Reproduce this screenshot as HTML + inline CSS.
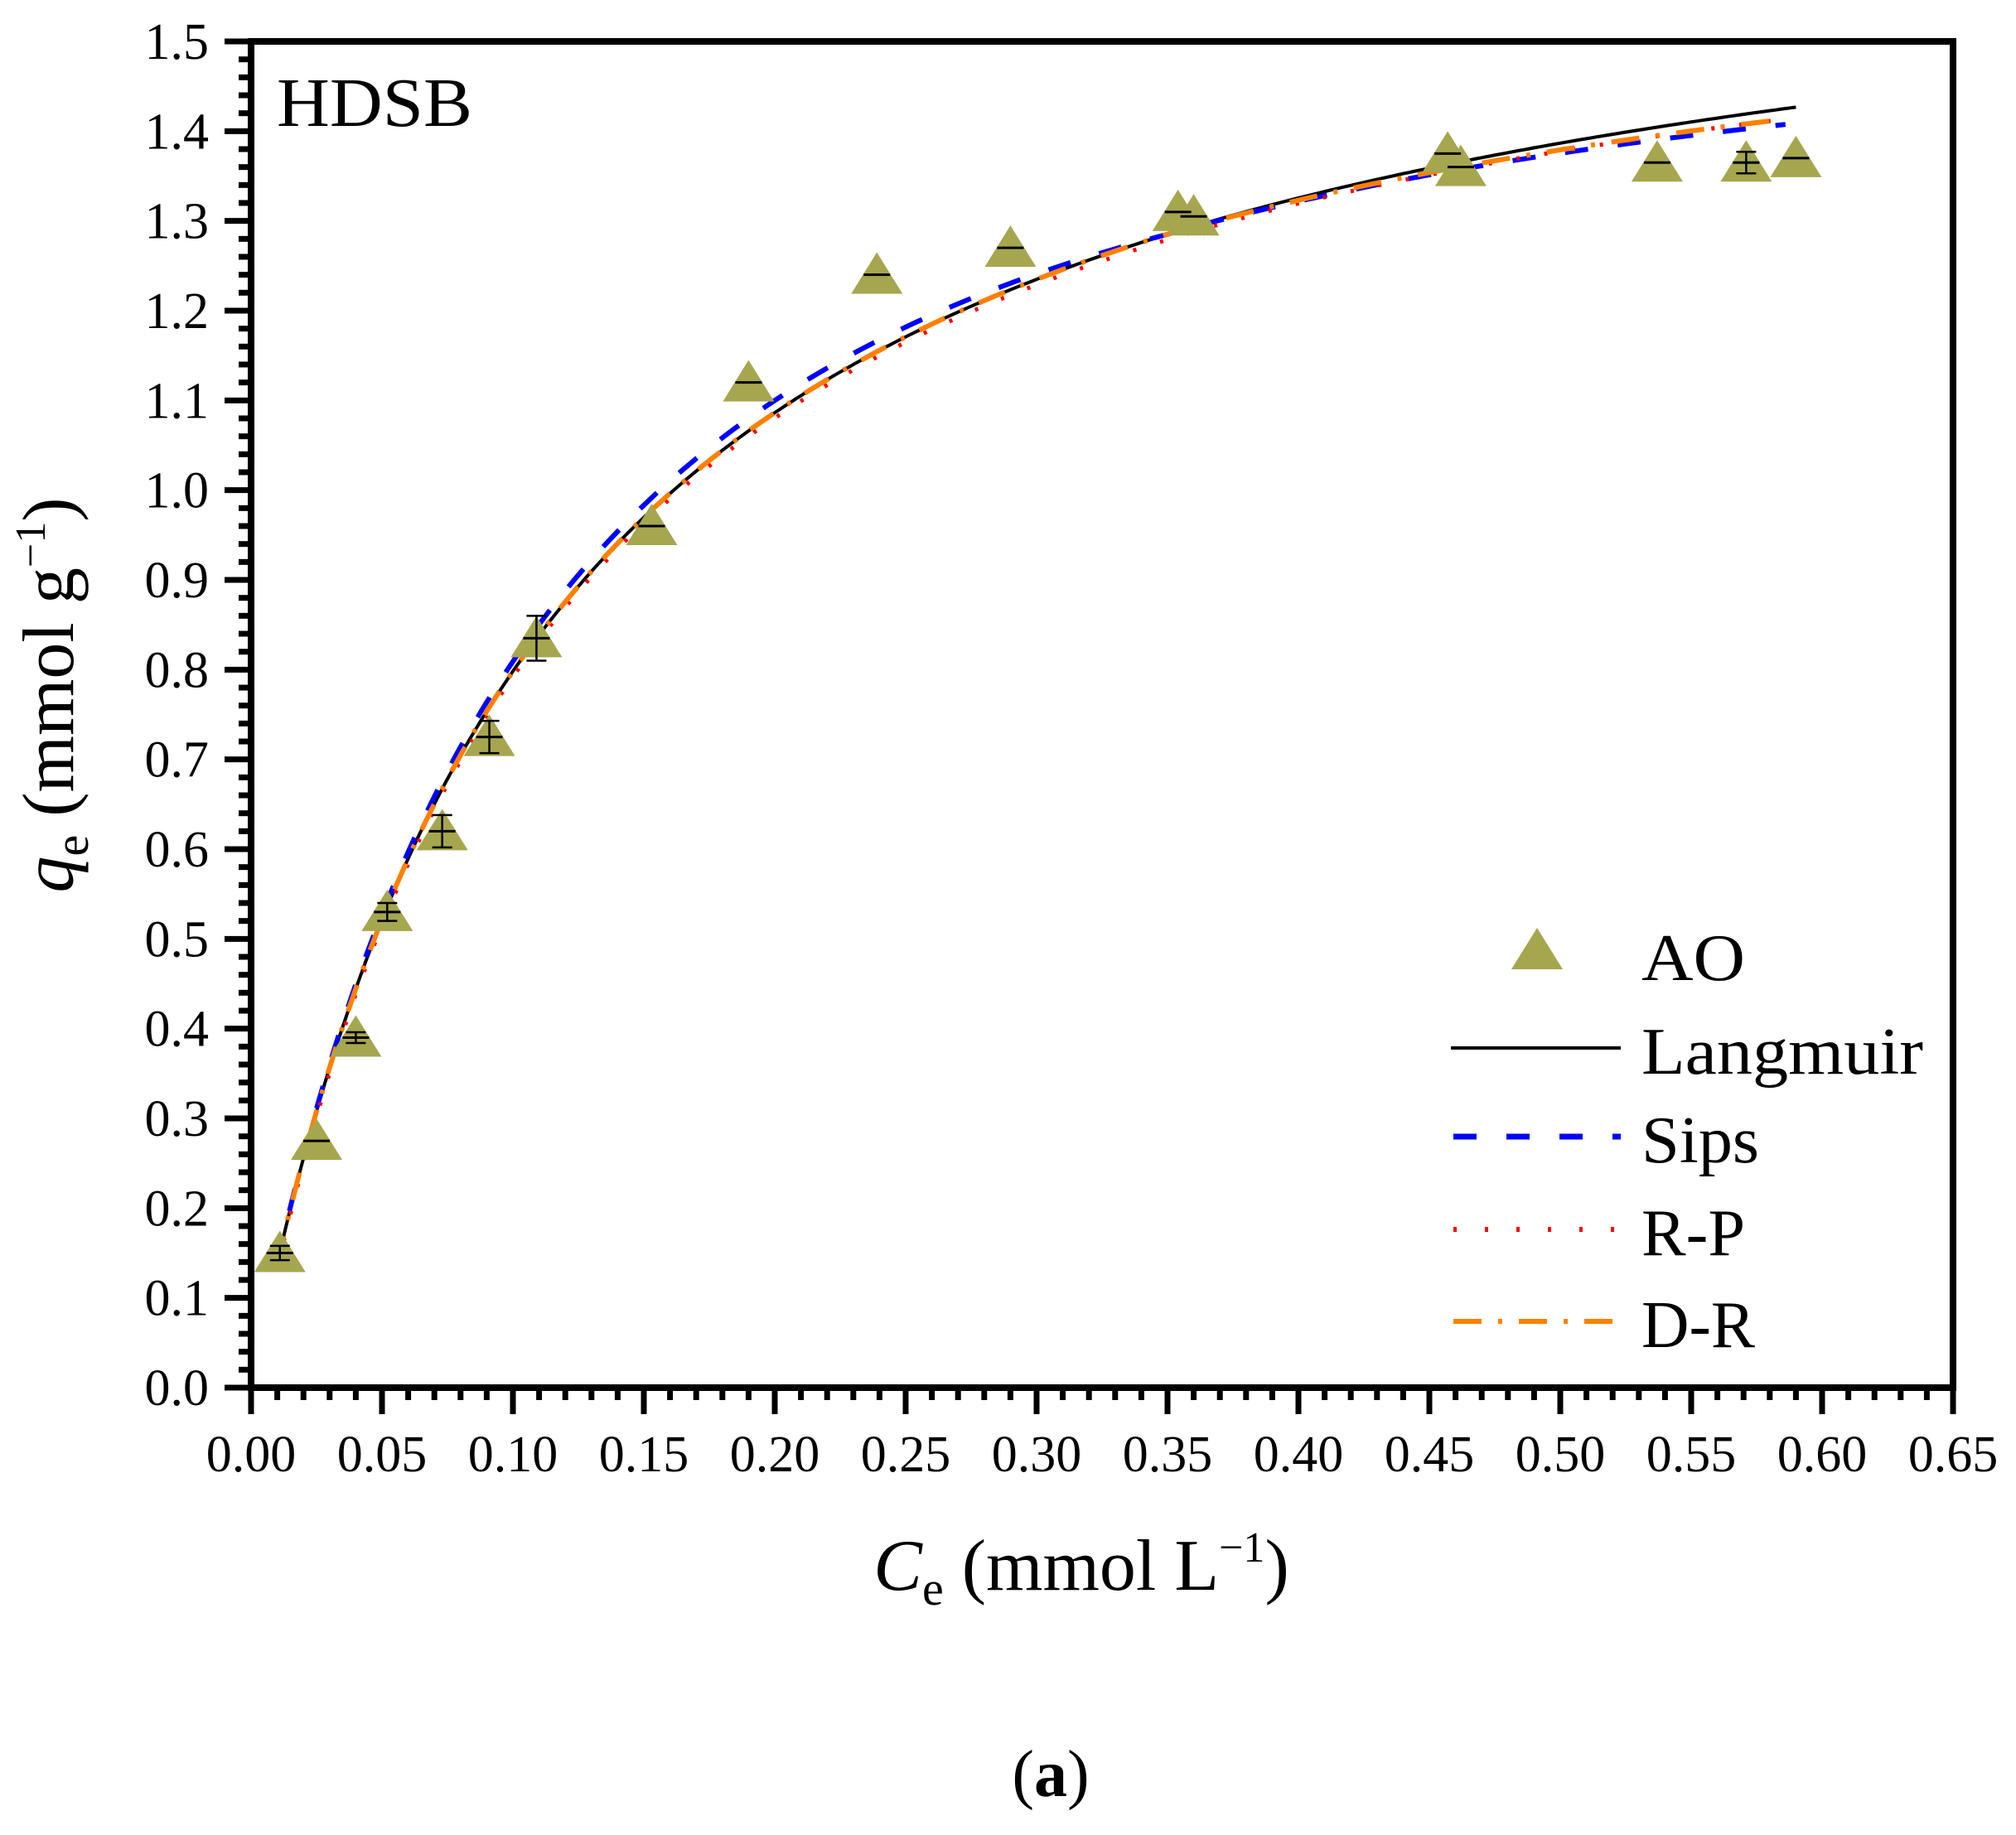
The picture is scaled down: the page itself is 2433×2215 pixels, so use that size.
<!DOCTYPE html>
<html><head><meta charset="utf-8">
<style>
html,body{margin:0;padding:0;background:#fff;}
svg{display:block;}
text{font-family:"Liberation Serif",serif;fill:#000;}
</style></head>
<body>
<svg id="s" width="2433" height="2215" viewBox="0 0 2433 2215" xmlns="http://www.w3.org/2000/svg">
<rect width="2433" height="2215" fill="#fff"/>
<g id="curves"></g>
<g id="pts"></g>
<rect x="303" y="50" width="2054" height="1625" fill="none" stroke="#000" stroke-width="8"/>
<g id="ticks" stroke="#000"></g>
<g id="labels" font-size="62"></g>
<text x="334" y="152" font-size="84" textLength="236" lengthAdjust="spacingAndGlyphs">HDSB</text>
<!-- legend -->
<polygon points="1855,1120 1886,1170 1824,1170" fill="#a6a64f"/>
<text x="1981" y="1183" font-size="80" textLength="125" lengthAdjust="spacingAndGlyphs">AO</text>
<line x1="1751" y1="1265" x2="1956" y2="1265" stroke="#000" stroke-width="4"/>
<text x="1981" y="1296" font-size="80" textLength="340" lengthAdjust="spacingAndGlyphs">Langmuir</text>
<line x1="1754" y1="1372" x2="1956" y2="1372" stroke="#0000ff" stroke-width="7" stroke-dasharray="28,36"/>
<text x="1981" y="1403" font-size="80" textLength="142" lengthAdjust="spacingAndGlyphs">Sips</text>
<line x1="1754" y1="1484" x2="1956" y2="1484" stroke="#ff0000" stroke-width="6" stroke-dasharray="4,34"/>
<text x="1981" y="1515" font-size="80" textLength="125" lengthAdjust="spacingAndGlyphs">R-P</text>
<line x1="1754" y1="1595" x2="1956" y2="1595" stroke="#ff8000" stroke-width="6" stroke-dasharray="34,20,5,20"/>
<text x="1981" y="1626" font-size="80" textLength="137" lengthAdjust="spacingAndGlyphs">D-R</text>
<!-- axis titles -->
<text x="1305" y="1919" font-size="88" text-anchor="middle"><tspan font-style="italic">C</tspan><tspan font-size="58" dy="18">e</tspan><tspan dy="-18"> (mmol L</tspan><tspan font-size="52" dy="-34">−1</tspan><tspan dy="34">)</tspan></text>
<text transform="translate(88,839) rotate(-90)" font-size="88" text-anchor="middle"><tspan font-style="italic">q</tspan><tspan font-size="58" dy="18">e</tspan><tspan dy="-18"> (mmol g</tspan><tspan font-size="52" dy="-34">−1</tspan><tspan dy="34">)</tspan></text>
<text x="1268" y="2168" font-size="80" text-anchor="middle">(<tspan font-weight="bold">a</tspan>)</text>
</svg>
<script>
var NS="http://www.w3.org/2000/svg";
function X(x){return 303+x*3160;}
function Y(y){return 1675-y*1083.33;}
function el(p,t,a,txt){var e=document.createElementNS(NS,t);for(var k in a)e.setAttribute(k,a[k]);if(txt!=null)e.textContent=txt;document.getElementById(p).appendChild(e);return e;}
for(var i=0;i<=65;i++){var x=X(i/100);var maj=i%5==0;el("ticks","line",{x1:x,y1:1675,x2:x,y2:maj?1707:1690,"stroke-width":7});
 if(maj)el("labels","text",{x:x,y:1776,"text-anchor":"middle"},(i/100).toFixed(2));}
for(var j=0;j<=75;j++){var y=Y(j/50);var maj=j%5==0;el("ticks","line",{x1:303,y1:y,x2:maj?271:288,y2:y,"stroke-width":7});
 if(maj)el("labels","text",{x:252,y:y+21,"text-anchor":"end"},(j/50).toFixed(1));}
function L(c){return 1.70*8.85*c/(1+8.85*c);}
function S(c){var d=0;if(c<0.35)d=0.014*Math.sin(Math.PI*c/0.35);else d=-0.018*(c-0.35)/0.24;return L(c)+d;}
function R(c){return L(c)-0.006-0.006*Math.max(0,c-0.4)/0.2;}
function D(c){return L(c)-0.012*Math.max(0,c-0.35)/0.24;}
function path(f,end){var s="";for(var c=0.01;c<=end+1e-9;c+=0.002){s+=(s?"L":"M")+X(c).toFixed(1)+","+Y(f(c)).toFixed(1);}return s;}
el("curves","path",{d:path(L,0.59),fill:"none",stroke:"#000","stroke-width":4});
el("curves","path",{d:path(S,0.586),fill:"none",stroke:"#0000ff","stroke-width":6,"stroke-dasharray":"28,36"});
el("curves","path",{d:path(R,0.586),fill:"none",stroke:"#ff0000","stroke-width":5,"stroke-dasharray":"4,30"});
el("curves","path",{d:path(D,0.586),fill:"none",stroke:"#ff8000","stroke-width":6,"stroke-dasharray":"34,20,5,20"});
var P=[[0.011,0.15],[0.025,0.275],[0.04,0.39],[0.052,0.53],[0.073,0.62],[0.091,0.725],[0.109,0.835],[0.153,0.96],[0.19,1.12],[0.239,1.24],[0.29,1.27],[0.354,1.31],[0.36,1.305],[0.457,1.375],[0.462,1.36],[0.537,1.365],[0.571,1.365],[0.59,1.37]];
var E={0:0.008,2:0.006,3:0.01,4:0.018,5:0.018,6:0.025,16:0.012};
P.forEach(function(p,k){var x=X(p[0]),y=Y(p[1])+6;
 el("pts","polygon",{points:x+","+(y-33)+" "+(x+31)+","+(y+17)+" "+(x-31)+","+(y+17),fill:"#a6a64f"});});
P.forEach(function(p,k){var x=X(p[0]),y=Y(p[1]);
 el("pts","line",{x1:x-16,y1:y,x2:x+16,y2:y,stroke:"#000","stroke-width":3});
 if(E[k]){var e=E[k]*1083;el("pts","line",{x1:x,y1:y-e,x2:x,y2:y+e,stroke:"#000","stroke-width":2.5});
  el("pts","line",{x1:x-12,y1:y-e,x2:x+12,y2:y-e,stroke:"#000","stroke-width":2.5});
  el("pts","line",{x1:x-12,y1:y+e,x2:x+12,y2:y+e,stroke:"#000","stroke-width":2.5});}});
</script>
</body></html>
